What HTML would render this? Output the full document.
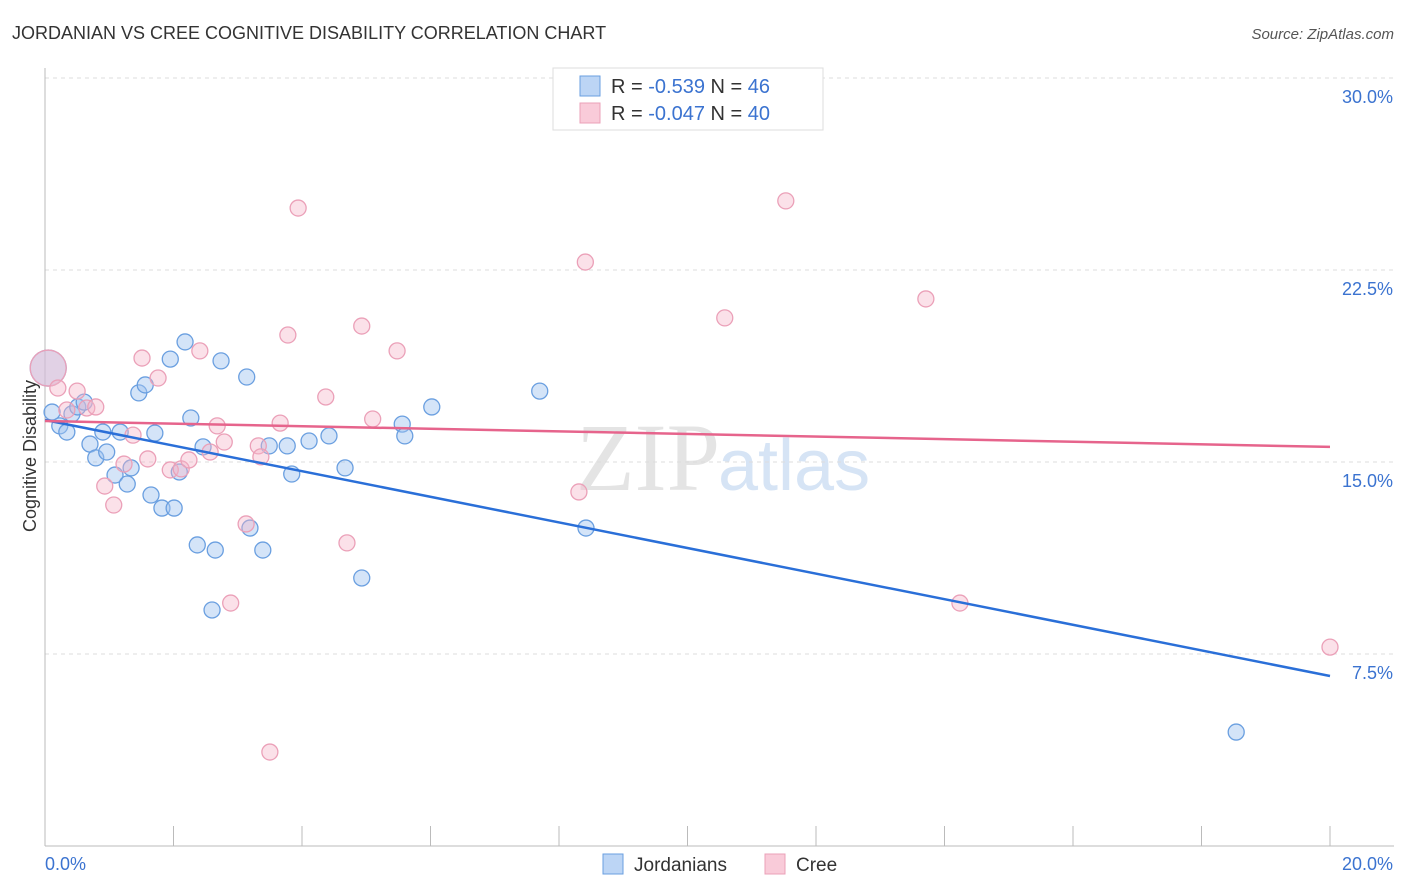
<!DOCTYPE html>
<html><head><meta charset="utf-8"><style>
body{margin:0;background:#fff;font-family:"Liberation Sans",sans-serif}
</style></head><body>
<svg width="1406" height="892" xmlns="http://www.w3.org/2000/svg" style="display:block">
<text x="12" y="39" font-size="18" fill="#333">JORDANIAN VS CREE COGNITIVE DISABILITY CORRELATION CHART</text>
<text x="1394" y="39" font-size="15" fill="#555" font-style="italic" text-anchor="end">Source: ZipAtlas.com</text>
<text x="720" y="490" font-size="96" fill="#e4e4e4" font-family="Liberation Serif" text-anchor="end">ZIP</text>
<text x="718" y="490" font-size="72" fill="#d6e4f5">atlas</text>
<g id="grid"></g>
<g id="axes"></g>
<g id="pts"></g>
<g id="lines"></g>
<text x="36" y="456" font-size="18" fill="#333" text-anchor="middle" transform="rotate(-90 36 456)">Cognitive Disability</text>
<g>
<rect x="553" y="68" width="270" height="62" fill="#fff" stroke="#ddd"/>
<rect x="580" y="76" width="20" height="20" fill="#bcd5f5" stroke="#6a9fe0"/>
<text x="611" y="93" font-size="20" fill="#333">R = <tspan fill="#3b73d0">-0.539</tspan>   N = <tspan fill="#3b73d0">46</tspan></text>
<rect x="580" y="103" width="20" height="20" fill="#f9cbd9" stroke="#eba0b8"/>
<text x="611" y="120" font-size="20" fill="#333">R = <tspan fill="#3b73d0">-0.047</tspan>   N = <tspan fill="#3b73d0">40</tspan></text>
</g>
<g>
<rect x="603" y="854" width="20" height="20" fill="#bcd5f5" stroke="#6a9fe0"/>
<text x="634" y="871" font-size="19" fill="#333">Jordanians</text>
<rect x="765" y="854" width="20" height="20" fill="#f9cbd9" stroke="#eba0b8"/>
<text x="796" y="871" font-size="19" fill="#333">Cree</text>
</g>
</svg>
<script>
const jordX=[0.05,0.11,0.23,0.34,0.42,0.51,0.61,0.70,0.79,0.90,0.96,1.09,1.17,1.28,1.34,1.46,1.56,1.65,1.71,1.82,1.95,2.01,2.09,2.18,2.27,2.37,2.46,2.60,2.65,2.74,3.14,3.19,3.39,3.49,3.77,3.84,4.11,4.42,4.67,4.93,5.56,5.60,6.02,7.70,8.42,18.54];
const jordY=[18.67,16.95,16.41,16.17,16.88,17.15,17.34,15.70,15.16,16.17,15.39,14.49,16.17,14.14,14.77,17.70,18.01,13.71,16.13,13.20,19.02,13.20,14.61,19.69,16.72,11.76,15.59,9.22,11.56,18.95,18.32,12.42,11.56,15.63,15.63,14.53,15.82,16.02,14.77,10.47,16.48,16.02,17.15,17.77,12.42,4.45];
const creeX=[0.05,0.20,0.34,0.50,0.65,0.79,0.93,1.07,1.23,1.37,1.51,1.60,1.76,1.95,2.12,2.24,2.41,2.57,2.68,2.79,2.89,3.13,3.32,3.36,3.50,3.66,3.78,3.94,4.37,4.70,4.93,5.10,5.48,8.31,8.41,10.58,11.53,13.71,14.24,20.0];
const creeY=[18.67,17.89,17.03,17.77,17.11,17.15,14.06,13.32,14.92,16.05,19.06,15.12,18.28,14.69,14.73,15.08,19.34,15.39,16.41,15.78,9.49,12.58,15.63,15.20,3.67,16.52,19.96,24.92,17.54,11.84,20.31,16.68,19.34,13.83,22.81,20.63,25.20,21.37,9.49,7.77];
const jordTrend=[16.64,6.64];
const creeTrend=[16.60,15.59];
const yTicks=[7.5,15,22.5,30];
const yTickLabels=["7.5%","15.0%","22.5%","30.0%"];
const NS="http://www.w3.org/2000/svg";
const sx=v=>45+v/20*1285, sy=v=>846-v/30*768;
function mk(tag,attrs,parent){const e=document.createElementNS(NS,tag);for(const k in attrs)e.setAttribute(k,attrs[k]);document.getElementById(parent).appendChild(e);return e;}
yTicks.forEach((t,i)=>{
 const g=mk('line',{x1:45,x2:1394,y1:sy(t),y2:sy(t),stroke:'#ddd','stroke-dasharray':'4,4'},'grid');
 
 
 const l=mk('text',{x:1393,y:sy(t)+25,'font-size':18,fill:'#3b73d0','text-anchor':'end'},'axes');
 l.textContent=yTickLabels[i];
 
 
});
const ax=mk('line',{x1:45,x2:45,y1:68,y2:846,stroke:'#bbb'},'axes');


const bx=mk('line',{x1:45,x2:1394,y1:846,y2:846,stroke:'#bbb'},'axes');


for(let v=0;v<=20;v+=2){const t=mk('line',{x1:sx(v),x2:sx(v),y1:826,y2:846,stroke:'#bbb'},'axes');
 
 }
[["0.0%",45,'start'],["20.0%",1393,'end']].forEach(a=>{const t=mk('text',{x:a[1],y:870,'font-size':18,fill:'#3b73d0','text-anchor':a[2]},'axes');t.textContent=a[0];
 
 });
function pts(X,Y,fill,stroke,name){X.forEach((x,i)=>{const big=i===0;
 const c=mk('circle',{cx:sx(x),cy:sy(Y[i]),r:big?18:8,fill:fill,stroke:stroke,'stroke-width':1.3},'pts');
 
 });}
pts(jordX,jordY,'rgba(160,196,240,0.45)','#6a9fe0','jordanian-point');
pts(creeX,creeY,'rgba(246,180,200,0.4)','#eba0b8','cree-point');
const l1=mk('line',{x1:sx(0),y1:sy(jordTrend[0]),x2:sx(20),y2:sy(jordTrend[1]),stroke:'#2a6fd8','stroke-width':2.5},'lines');


const l2=mk('line',{x1:sx(0),y1:sy(creeTrend[0]),x2:sx(20),y2:sy(creeTrend[1]),stroke:'#e6648c','stroke-width':2.5},'lines');


</script>
</body></html>
